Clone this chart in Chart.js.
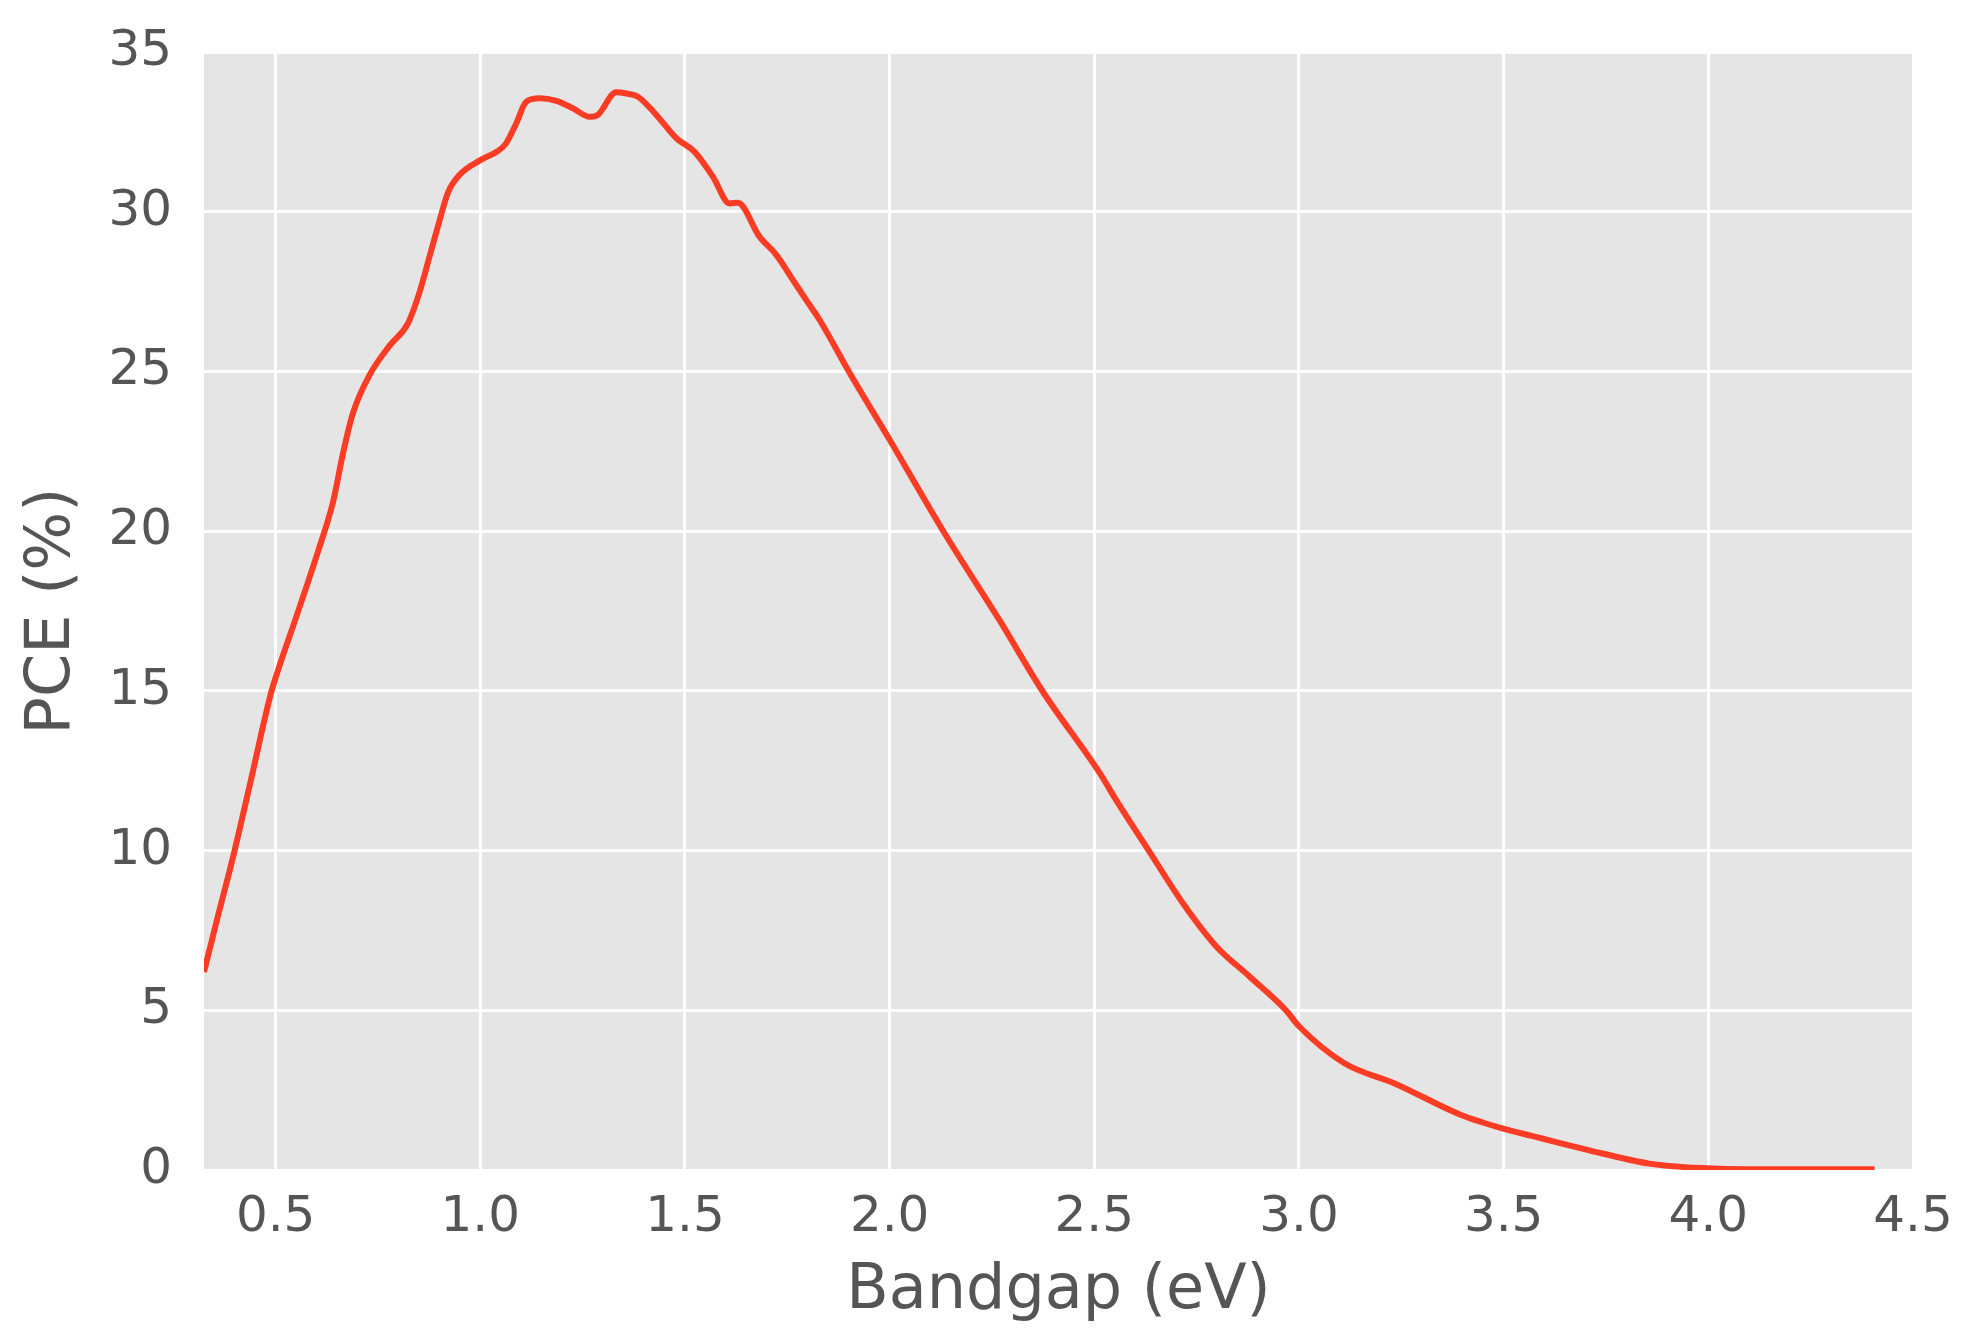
<!DOCTYPE html>
<html>
<head>
<meta charset="utf-8">
<title>PCE vs Bandgap</title>
<script src="https://cdn.jsdelivr.net/npm/chart.js@4.4.1/dist/chart.umd.min.js"></script>
<style>
	html, body { margin: 0; padding: 0; background: #fff; }
	#pce-chart { display: block; }
</style>
</head>
<body>
<canvas id="pce-chart" width="1986" height="1341"></canvas>
<script>
// Bandgap (eV) and efficiency (%).
var bandgap = [
	0.325, 0.36, 0.396, 0.436, 0.489, 0.506, 0.55, 0.607, 0.64, 0.664,
	0.689, 0.73, 0.778, 0.823, 0.852, 0.876, 0.9, 0.921, 0.949, 0.998,
	1.043, 1.063, 1.088, 1.112, 1.145, 1.186, 1.226, 1.267, 1.287, 1.332,
	1.357, 1.385, 1.43, 1.479, 1.523, 1.568, 1.609, 1.629, 1.682, 1.723,
	1.764, 1.796, 1.829, 1.902, 2.0, 2.13, 2.268, 2.374, 2.513, 2.553,
	2.635, 2.716, 2.798, 2.879, 2.968, 3.0, 3.11, 3.239, 3.393, 3.506,
	3.571, 3.702, 3.856, 4.01, 4.2, 4.406
];
var pce = [
	6.2, 8.0, 9.8, 12.0, 14.95, 15.65, 17.3, 19.5, 20.9, 22.4,
	23.7, 24.9, 25.8, 26.5, 27.5, 28.6, 29.7, 30.6, 31.15, 31.6,
	31.9, 32.14, 32.77, 33.44, 33.55, 33.47, 33.24, 32.97, 33.03, 33.74,
	33.7, 33.6, 33.03, 32.3, 31.88, 31.1, 30.26, 30.28, 29.22, 28.65,
	27.86, 27.24, 26.61, 24.96, 22.86, 20.02, 17.22, 14.98, 12.43, 11.59,
	9.96, 8.36, 7.0, 6.06, 5.0, 4.5, 3.35, 2.68, 1.74, 1.27,
	1.06, 0.64, 0.2, 0.05, 0.02, 0.02
];
var xTicks = [ 0.5, 1.0, 1.5, 2.0, 2.5, 3.0, 3.5, 4.0, 4.5 ];
var yTicks = [ 0, 5, 10, 15, 20, 25, 30, 35 ];

( function() {
	'use strict';

	var textColor = '#555555';
	var fontFamily = '"DejaVu Sans", Verdana, sans-serif';

	/**
	 * Paint the grey panel behind the grid, ggplot style.
	 */
	var panelBackground = {
		id: 'panelBackground',
		beforeDraw: function( chart ) {
			var area = chart.chartArea;
			var ctx = chart.ctx;
			ctx.save();
			ctx.fillStyle = '#e5e5e5';
			ctx.fillRect( area.left, area.top, area.right - area.left, area.bottom - area.top );
			ctx.restore();
		}
	};

	var points = bandgap.map( function( x, i ) {
		return { x: x, y: pce[ i ] };
	} );

	new Chart( document.getElementById( 'pce-chart' ), {
		type: 'line',
		data: {
			datasets: [ {
				data: points,
				borderColor: '#fa3c24',
				borderWidth: 6,
				pointRadius: 0,
				fill: false,
				cubicInterpolationMode: 'monotone'
			} ]
		},
		options: {
			responsive: false,
			animation: false,
			devicePixelRatio: 1,
			layout: {
				autoPadding: false,
				padding: { top: 52, right: 73, bottom: 0, left: 0 }
			},
			plugins: {
				legend: { display: false },
				tooltip: { enabled: false }
			},
			scales: {
				x: {
					type: 'linear',
					min: 0.325,
					max: 4.5,
					afterBuildTicks: function( scale ) {
						scale.ticks = xTicks.map( function( v ) {
							return { value: v };
						} );
					},
					afterFit: function( scale ) {
						scale.height = 171;
						scale.paddingLeft = 0;
						scale.paddingRight = 0;
					},
					ticks: {
						padding: 18,
						color: textColor,
						font: { family: fontFamily, size: 50 },
						maxRotation: 0,
						autoSkip: false,
						callback: function( value ) {
							return Number( value ).toFixed( 1 );
						}
					},
					grid: {
						color: '#ffffff',
						lineWidth: 3,
						drawTicks: false
					},
					border: { display: false },
					title: {
						display: true,
						text: 'Bandgap (eV)',
						color: textColor,
						font: { family: fontFamily, size: 62 },
						padding: { top: 0, bottom: 12 }
					}
				},
				y: {
					type: 'linear',
					min: 0,
					max: 35,
					afterBuildTicks: function( scale ) {
						scale.ticks = yTicks.map( function( v ) {
							return { value: v };
						} );
					},
					afterFit: function( scale ) {
						// Keep the label padding from pushing the panel down.
						scale.width = 204;
						scale.paddingTop = 0;
						scale.paddingBottom = 0;
					},
					ticks: {
						padding: 32,
						color: textColor,
						font: { family: fontFamily, size: 50 }
					},
					grid: {
						color: '#ffffff',
						lineWidth: 3,
						drawTicks: false
					},
					border: { display: false },
					title: {
						display: true,
						text: 'PCE (%)',
						color: textColor,
						font: { family: fontFamily, size: 62 },
						padding: { top: 16, bottom: 0 }
					}
				}
			}
		},
		plugins: [ panelBackground ]
	} );
} )();
</script>
</body>
</html>
